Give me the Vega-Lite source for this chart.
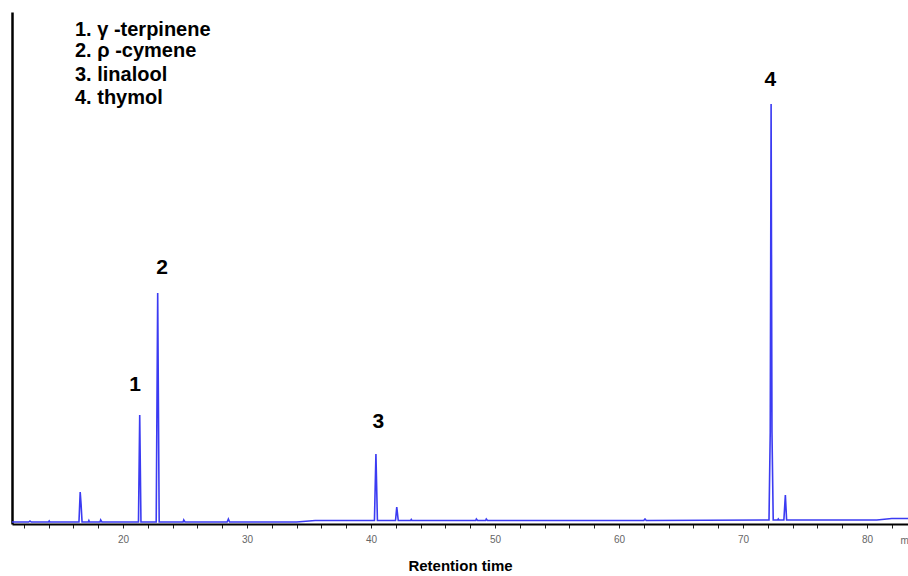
{
  "$schema": "https://vega.github.io/schema/vega-lite/v6.json",
  "width": 896,
  "height": 512,
  "autosize": {"type": "none"},
  "padding": {"left": 12, "top": 12, "right": 0, "bottom": 52},
  "background": "white",
  "config": {"view": {"stroke": null}, "font": "Liberation Sans", "axis": {"labelOverlap": false}},
  "datasets": {
    "chrom": [
      {"t": 11.05, "v": 0}, {"t": 12.4, "v": 0}, {"t": 12.5, "v": 1}, {"t": 12.6, "v": 0},
      {"t": 14.0, "v": 0}, {"t": 14.05, "v": 1}, {"t": 14.1, "v": 0},
      {"t": 16.45, "v": 0}, {"t": 16.55, "v": 30}, {"t": 16.62, "v": 18}, {"t": 16.7, "v": 0},
      {"t": 17.2, "v": 0}, {"t": 17.25, "v": 1.5}, {"t": 17.3, "v": 0},
      {"t": 18.15, "v": 0}, {"t": 18.2, "v": 2}, {"t": 18.3, "v": 0},
      {"t": 21.25, "v": 0}, {"t": 21.35, "v": 107}, {"t": 21.45, "v": 0},
      {"t": 22.68, "v": 0}, {"t": 22.8, "v": 229}, {"t": 22.92, "v": 0},
      {"t": 24.85, "v": 0}, {"t": 24.9, "v": 2}, {"t": 25.0, "v": 0},
      {"t": 28.4, "v": 0}, {"t": 28.5, "v": 3}, {"t": 28.6, "v": 0},
      {"t": 34.0, "v": 0}, {"t": 35.5, "v": 1.5},
      {"t": 40.28, "v": 1.5}, {"t": 40.4, "v": 68}, {"t": 40.52, "v": 1.5},
      {"t": 41.98, "v": 1.5}, {"t": 42.08, "v": 15}, {"t": 42.2, "v": 1.5},
      {"t": 43.2, "v": 1.5}, {"t": 43.25, "v": 2.5}, {"t": 43.3, "v": 1.5},
      {"t": 48.45, "v": 1.5}, {"t": 48.5, "v": 3}, {"t": 48.6, "v": 1.5},
      {"t": 49.25, "v": 1.5}, {"t": 49.3, "v": 3}, {"t": 49.4, "v": 1.5},
      {"t": 62.0, "v": 1.5}, {"t": 62.1, "v": 3}, {"t": 62.2, "v": 1.5},
      {"t": 72.1, "v": 2}, {"t": 72.2, "v": 90}, {"t": 72.27, "v": 418}, {"t": 72.34, "v": 90}, {"t": 72.44, "v": 2},
      {"t": 72.8, "v": 2}, {"t": 72.85, "v": 3}, {"t": 72.9, "v": 2},
      {"t": 73.3, "v": 2}, {"t": 73.42, "v": 27}, {"t": 73.52, "v": 2},
      {"t": 80.8, "v": 2}, {"t": 82.0, "v": 3.5}, {"t": 83.31, "v": 3.5}
    ],
    "peaks": [
      {"t": 20.97, "v": 137, "label": "1"},
      {"t": 23.15, "v": 254, "label": "2"},
      {"t": 40.6, "v": 100, "label": "3"},
      {"t": 72.2, "v": 442, "label": "4"}
    ],
    "legend": [
      {"t": 16.13, "v": 492, "label": "1. γ -terpinene"},
      {"t": 16.13, "v": 471, "label": "2. ρ -cymene"},
      {"t": 16.13, "v": 447, "label": "3. linalool"},
      {"t": 16.13, "v": 424, "label": "4. thymol"}
    ],
    "unit": [
      {"t": 83.05, "v": -19, "label": "m"}
    ]
  },
  "encoding": {
    "x": {
      "field": "t", "type": "quantitative",
      "scale": {"domain": [11.05, 83.31], "nice": false, "zero": false},
      "axis": {
        "title": "Retention time",
        "titleFont": "Liberation Sans", "titleFontWeight": "bold", "titleFontSize": 15, "titleColor": "#000",
        "titlePadding": 14,
        "values": [12,14,16,18,20,22,24,26,28,30,32,34,36,38,40,42,44,46,48,50,52,54,56,58,60,62,64,66,68,70,72,74,76,78,80,82],
        "labelExpr": "indexof(['20','30','40','50','60','70','80'], datum.label) >= 0 ? datum.label : ''",
        "labelOverlap": false,
        "labelFontSize": 10, "labelColor": "#666", "labelPadding": 6,
        "domainColor": "#000", "domainWidth": 2,
        "tickColor": "#222", "tickSize": 4, "tickWidth": 1,
        "grid": false
      }
    },
    "y": {
      "field": "v", "type": "quantitative",
      "scale": {"domain": [-2, 510], "nice": false, "zero": false},
      "axis": {"title": null, "labels": false, "ticks": false, "grid": false, "domainColor": "#000", "domainWidth": 2.5}
    }
  },
  "layer": [
    {
      "data": {"name": "chrom"},
      "mark": {"type": "line", "color": "#3b3bf2", "strokeWidth": 1.6, "interpolate": "linear"}
    },
    {
      "data": {"name": "peaks"},
      "mark": {"type": "text", "font": "Liberation Sans", "fontWeight": "bold", "fontSize": 21, "color": "#000", "align": "center", "baseline": "middle"},
      "encoding": {"text": {"field": "label"}}
    },
    {
      "data": {"name": "legend"},
      "mark": {"type": "text", "font": "Liberation Sans", "fontWeight": "bold", "fontSize": 20, "color": "#000", "align": "left", "baseline": "middle"},
      "encoding": {"text": {"field": "label"}}
    },
    {
      "data": {"name": "unit"},
      "mark": {"type": "text", "fontSize": 10, "color": "#666", "align": "center", "baseline": "middle"},
      "encoding": {"text": {"field": "label"}}
    }
  ]
}
